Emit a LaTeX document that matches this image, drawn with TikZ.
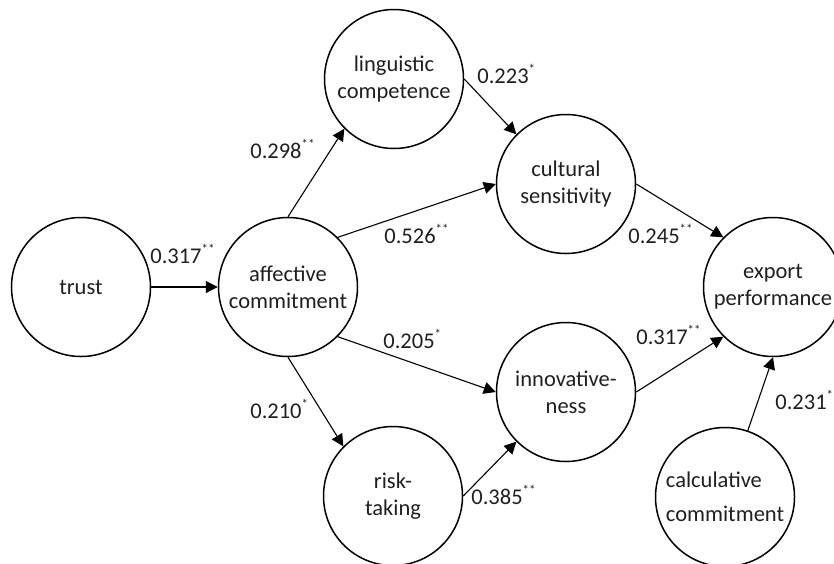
\documentclass[tikz,border=0pt]{standalone}
\usepackage{fontspec}
\setmainfont{Carlito}
\usetikzlibrary{arrows.meta}
% significance stars set after a coefficient, without shifting its centre
\newcommand\sigmark[1]{\rlap{\raisebox{10pt}{\fontsize{13}{13}\selectfont #1}}}
\begin{document}
\begin{tikzpicture}[x=1pt,y=-1pt,
  construct/.style={circle, draw, line width=1.5pt, minimum size=139pt, inner sep=0pt,
    align=center, text=black!88, font=\fontsize{22.5}{27}\selectfont},
  link/.style={line width=1.1pt, -{Triangle[length=12pt,width=12pt]}},
  coef/.style={inner sep=0pt, text=black!88, font=\fontsize{22.5}{27}\selectfont}]
\useasboundingbox (0,0) rectangle (834,563);

% constructs
\node[construct] (trust) at (81,287) {trust};
\node[construct] (aff)   at (288,287) {affective\\commitment};
\node[construct] (ling)  at (394,79) {linguistic\\competence};
\node[construct] (cult)  at (566,184) {cultural\\sensitivity};
\node[construct] (innov) at (566,392) {innovative-\\ness};
\node[construct] (risk)  at (393,496) {risk-\\taking};
\node[construct] (exp)   at (773,287) {export\\performance};
\node[construct, align=left, font=\fontsize{22.5}{34}\selectfont] (calc) at (725,497)
  {calculative\\commitment};

% structural paths
\draw[link] (trust) -- (aff);
\draw[link] (aff.north) -- (ling.south west);
\draw[link] (aff.north east) -- (cult.west);
\draw[link] (ling.east) -- (cult.north west);
\draw[link] (cult.east) -- (exp.north west);
\draw[link] (aff.south east) -- (innov.west);
\draw[link] (aff.south) -- (risk.north west);
\draw[link] (risk.east) -- (innov.south west);
\draw[link] (innov.east) -- (exp.south west);
\draw[link] (calc) -- (exp.south);

% path coefficients
\node[coef] (c1)  at (176,254) {0.317\sigmark{**}};
\node[coef] (c2)  at (276,149) {0.298\sigmark{**}};
\node[coef] (c3)  at (410,234) {0.526\sigmark{**}};
\node[coef] (c4)  at (503,74)  {0.223\sigmark{*}};
\node[coef] (c5)  at (654,234) {0.245\sigmark{**}};
\node[coef] (c6)  at (409,339) {0.205\sigmark{*}};
\node[coef] (c7)  at (276,409) {0.210\sigmark{*}};
\node[coef] (c8)  at (497,495) {0.385\sigmark{**}};
\node[coef] (c9)  at (662,335) {0.317\sigmark{**}};
\node[coef] (c10) at (801,400) {0.231\sigmark{*}};
\end{tikzpicture}
\end{document}
